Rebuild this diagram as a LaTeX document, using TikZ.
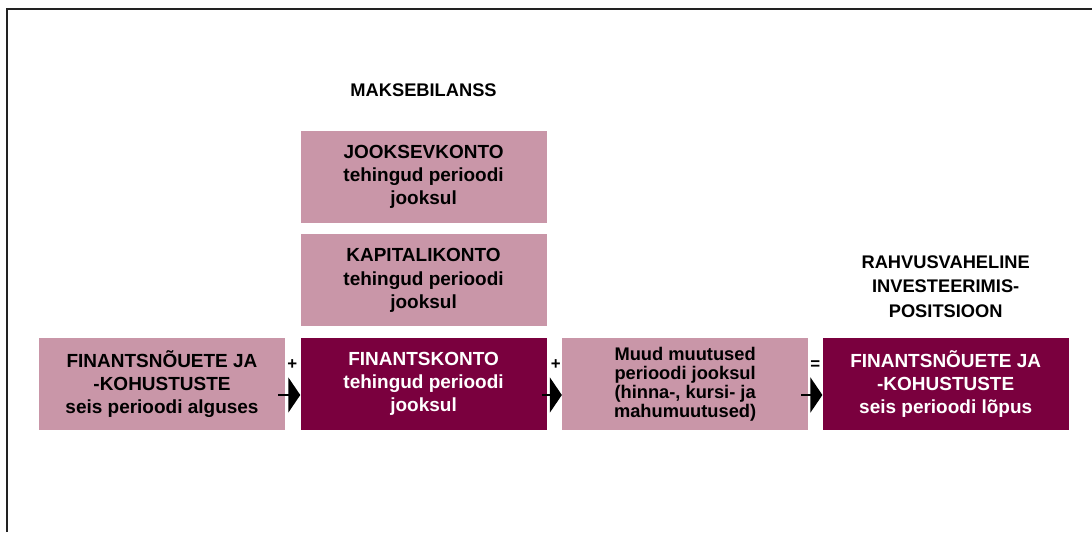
\documentclass[tikz,border=0pt]{standalone}
\usepackage{fontspec}
\setmainfont{Liberation Sans}
\usetikzlibrary{arrows.meta, positioning, calc}
\definecolor{cLight}{RGB}{201,150,168}
\definecolor{cDark}{RGB}{122,0,62}
\definecolor{cFrame}{RGB}{34,34,34}
\tikzset{
	lightbox/.style={rectangle, minimum width=6.15cm, minimum height=2.3cm, text centered, align=center, inner sep=0pt, fill=cLight, font=\bfseries\fontsize{13.5}{16.5}\selectfont},
	darkbox/.style ={lightbox, fill=cDark, text=white},
	heading/.style ={align=center, inner sep=0pt, font=\bfseries\fontsize{13}{17.5}\selectfont},
	opsign/.style  ={inner sep=0pt, font=\bfseries\fontsize{12}{14}\selectfont},
	sumarrow/.style={-{Triangle[length=0.3cm, width=0.875cm]}, line width=1.4pt},
}
\begin{document}
\begin{tikzpicture}
	\useasboundingbox (0,0) rectangle (27.3,-13.3);
	\draw[cFrame, line width=1.4pt] (0.175,-13.3) -- (0.175,-0.225) -- (27.3,-0.225);
	% bottom row
	\node[lightbox] (start) at (4.05,-9.6) {FINANTSNÕUETE JA\\-KOHUSTUSTE\\seis perioodi alguses};
	\node[darkbox, right=0.375cm of start] (fin) {FINANTSKONTO\\tehingud perioodi\\jooksul};
	\node[lightbox, right=0.375cm of fin, font=\bfseries\fontsize{13}{13.5}\selectfont] (other) {Muud muutused\\perioodi jooksul\\(hinna-, kursi- ja\\mahumuutused)};
	\node[darkbox, right=0.35cm of other] (end) {FINANTSNÕUETE JA\\-KOHUSTUSTE\\seis perioodi lõpus};
	% balance of payments column
	\node[lightbox, above=0.275cm of fin] (capital) {KAPITALIKONTO\\tehingud perioodi\\jooksul};
	\node[lightbox, above=0.275cm of capital] (current) {JOOKSEVKONTO\\tehingud perioodi\\jooksul};
	\node[heading, above=0.85cm of current] (bop) {MAKSEBILANSS};
	\node[heading, above=0.5cm of end] (iip) {RAHVUSVAHELINE\\INVESTEERIMIS-\\POSITSIOON};
	% arrows with signs
	\draw[sumarrow] ([xshift=-0.175cm, yshift=-0.275cm]start.east) -- ([yshift=-0.275cm]fin.west);
	\draw[sumarrow] ([xshift=-0.125cm, yshift=-0.275cm]fin.east) -- ([yshift=-0.275cm]other.west);
	\draw[sumarrow] ([xshift=-0.175cm, yshift=-0.275cm]other.east) -- ([yshift=-0.275cm]end.west);
	\node[opsign] (plus1) at ([xshift=-0.2cm, yshift=0.475cm]fin.west) {+};
	\node[opsign] (plus2) at ([xshift=-0.15cm, yshift=0.475cm]other.west) {+};
	\node[opsign] (equals) at ([xshift=-0.18cm, yshift=0.475cm]end.west) {=};
\end{tikzpicture}
\end{document}
